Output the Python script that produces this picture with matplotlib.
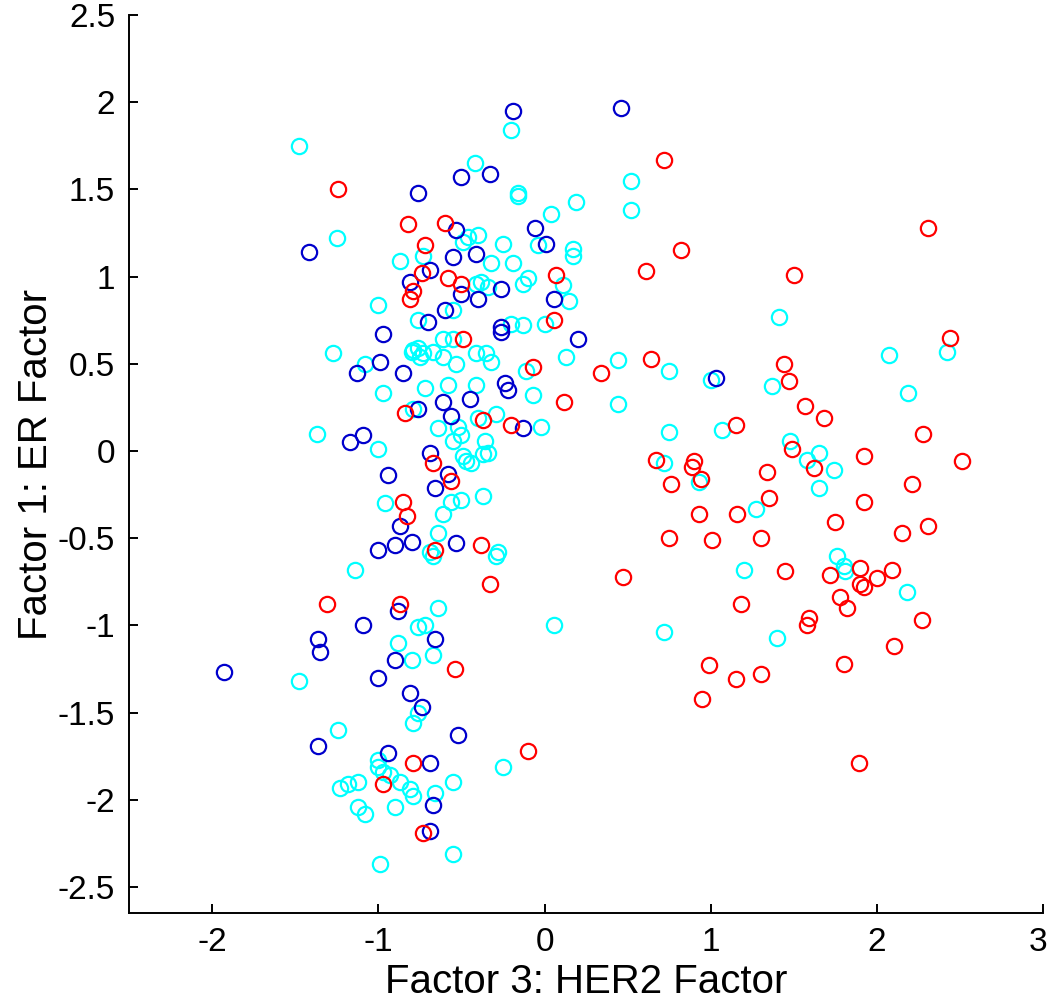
"""Scatter of ER factor against HER2 factor, three sample groups."""

from __future__ import annotations

import matplotlib

matplotlib.use("Agg")
import matplotlib.pyplot as plt
from matplotlib.transforms import ScaledTranslation


CYAN_X = [
    -1.48, -1.25, -0.87, -1.00, -0.20, -0.42, -0.16, -0.16, 0.19, 0.52, 0.52, 0.04,
    -0.04, 0.17, 0.17, -0.40, -0.46, -0.49, -0.25, -0.73, -0.32, -0.19, -0.41, -0.38,
    -0.34, -0.13, -0.10, 0.11, 0.15, -0.55, -0.76, -0.20, -0.13, 0.00, -1.27, -1.08,
    -0.79, -0.97, -0.79, -1.37, -1.00, -0.96, -0.76, -0.73, -0.75, -0.67, -0.61, -0.61,
    -0.55, -0.53, -0.41, -0.35, -0.32, -0.11, 0.44, 0.44, -0.07, 0.13, -0.72, -0.58,
    -0.41, -0.64, -0.52, -0.50, -0.55, -0.02, -0.29, -0.40, -0.36, -0.49, -0.47, -0.44,
    -0.37, -0.34, -0.50, -0.56, -0.37, -0.61, -0.64, -0.28, -0.69, -1.14, -0.76, -0.88,
    -0.80, -1.48, -0.79, -1.24, -0.29, -0.64, 0.06, -0.72, -0.67, -0.76, -1.00, -1.00,
    -0.97, -0.25, -0.93, -0.87, -1.23, -1.18, -1.12, -0.55, -0.81, -0.79, -0.66, -0.90,
    -1.12, -1.08, -0.55, -0.99, 1.41, 0.75, 1.00, 1.37, 0.75, 1.07, 1.48, 1.58,
    1.65, 2.42, 2.07, 2.19, 1.74, 0.72, 0.93, 1.27, 1.20, 0.72, 1.40, 1.65,
    1.76, 1.80, 1.81, 2.18, -0.80, -0.67,
]
CYAN_Y = [
    1.75, 1.22, 1.09, 0.84, 1.84, 1.65, 1.48, 1.46, 1.43, 1.55, 1.38, 1.36,
    1.18, 1.16, 1.12, 1.24, 1.23, 1.20, 1.19, 1.12, 1.08, 1.08, 0.96, 0.97,
    0.94, 0.96, 0.99, 0.95, 0.86, 0.81, 0.75, 0.73, 0.72, 0.73, 0.56, 0.50,
    0.58, 0.33, 0.24, 0.10, 0.01, -0.30, 0.59, 0.56, 0.54, 0.57, 0.64, 0.54,
    0.64, 0.50, 0.56, 0.56, 0.51, 0.46, 0.52, 0.27, 0.32, 0.54, 0.36, 0.38,
    0.38, 0.13, 0.14, 0.09, 0.06, 0.14, 0.21, 0.19, 0.06, -0.03, -0.06, -0.07,
    -0.02, -0.01, -0.28, -0.29, -0.26, -0.36, -0.47, -0.58, -0.58, -0.68, -1.01, -1.10,
    -1.20, -1.32, -1.56, -1.60, -0.60, -0.90, -1.00, -1.00, -1.17, -1.50, -1.77, -1.81,
    -1.84, -1.81, -1.86, -1.90, -1.93, -1.91, -1.90, -1.90, -1.94, -1.98, -1.96, -2.04,
    -2.04, -2.08, -2.31, -2.37, 0.77, 0.46, 0.41, 0.37, 0.11, 0.12, 0.06, -0.05,
    -0.01, 0.57, 0.55, 0.33, -0.11, -0.07, -0.18, -0.33, -0.68, -1.04, -1.07, -0.21,
    -0.60, -0.66, -0.69, -0.81, 0.57, -0.60,
]

BLUE_X = [
    -0.19, 0.46, -0.50, -0.33, -0.76, -1.42, -0.81, -0.53, -0.06, 0.01, -0.55, -0.41,
    -0.69, -0.50, -0.26, 0.06, -0.40, -0.60, -0.70, -0.26, -0.97, -1.13, -0.99, -0.85,
    -0.76, -1.17, -1.09, -0.94, -0.87, -1.00, -0.90, -0.80, -0.26, 0.20, -0.24, -0.22,
    -0.61, -0.45, -0.56, -0.13, -0.69, -0.58, -0.66, -0.53, -0.88, -1.09, -1.36, -1.35,
    -0.90, -1.93, -1.00, -0.81, -0.74, -1.36, -0.94, -0.52, -0.69, -0.67, -0.69, 1.03,
    -0.66,
]
BLUE_Y = [
    1.95, 1.97, 1.57, 1.59, 1.48, 1.14, 0.97, 1.27, 1.28, 1.19, 1.11, 1.13,
    1.04, 0.90, 0.93, 0.87, 0.87, 0.81, 0.74, 0.71, 0.67, 0.45, 0.51, 0.45,
    0.24, 0.05, 0.09, -0.14, -0.43, -0.57, -0.54, -0.52, 0.68, 0.64, 0.39, 0.35,
    0.28, 0.30, 0.20, 0.13, -0.01, -0.13, -0.21, -0.53, -0.92, -1.00, -1.08, -1.15,
    -1.20, -1.27, -1.30, -1.39, -1.47, -1.69, -1.73, -1.63, -1.79, -2.03, -2.18, 0.42,
    -1.08,
]

RED_X = [
    -1.24, -0.82, -0.72, -0.74, -0.79, -0.81, -0.60, -0.58, -0.50, 0.07, 0.06, -0.84,
    -0.85, -0.83, -0.49, -0.07, 0.34, 0.12, -0.37, -0.20, -0.67, -0.56, -0.66, -0.38,
    -1.31, -0.87, -0.33, 0.47, -0.54, -0.10, -0.79, -0.97, -0.73, 0.72, 0.82, 0.61,
    1.50, 0.64, 1.44, 1.47, 1.57, 1.68, 1.15, 1.49, 0.67, 0.90, 2.31, 2.44,
    2.28, 1.92, 2.51, 1.62, 0.89, 0.94, 0.76, 1.34, 1.35, 0.93, 1.16, 0.75,
    1.01, 1.30, 1.45, 1.18, 1.59, 1.58, 0.99, 1.15, 1.30, 0.95, 2.21, 1.92,
    1.75, 2.15, 2.31, 1.72, 1.90, 2.09, 2.00, 1.90, 1.92, 1.78, 1.82, 2.27,
    2.10, 1.80, 1.89,
]
RED_Y = [
    1.50, 1.30, 1.18, 1.02, 0.92, 0.87, 1.31, 0.99, 0.96, 1.01, 0.75, 0.22,
    -0.29, -0.37, 0.64, 0.48, 0.45, 0.28, 0.18, 0.15, -0.07, -0.17, -0.57, -0.54,
    -0.88, -0.88, -0.76, -0.72, -1.25, -1.72, -1.79, -1.91, -2.19, 1.67, 1.15, 1.03,
    1.01, 0.53, 0.50, 0.40, 0.26, 0.19, 0.15, 0.01, -0.05, -0.06, 1.28, 0.65,
    0.10, -0.03, -0.06, -0.10, -0.09, -0.16, -0.19, -0.12, -0.27, -0.36, -0.36, -0.50,
    -0.51, -0.50, -0.69, -0.88, -0.96, -1.00, -1.23, -1.31, -1.28, -1.42, -0.19, -0.29,
    -0.41, -0.47, -0.43, -0.71, -0.67, -0.68, -0.73, -0.76, -0.78, -0.84, -0.90, -0.97,
    -1.12, -1.22, -1.79,
]

X_TICKS = [-2, -1, 0, 1, 2, 3]
Y_TICKS = [-2.5, -2, -1.5, -1, -0.5, 0, 0.5, 1, 1.5, 2, 2.5]

GROUPS = [
    (CYAN_X, CYAN_Y, "#00ffff"),
    (BLUE_X, BLUE_Y, "#0000cc"),
    (RED_X, RED_Y, "#ff0000"),
]


def main() -> int:
    plt.rcParams["font.family"] = ["Liberation Sans", "DejaVu Sans"]
    plt.rcParams["axes.unicode_minus"] = False

    fig = plt.figure(figsize=(10.5, 10.06), dpi=100)
    ax = fig.add_axes([0.1229, 0.0924, 0.8705, 0.8926])

    for xs, ys, color in GROUPS:
        ax.plot(
            xs,
            ys,
            linestyle="none",
            marker="o",
            markersize=11,
            markerfacecolor="none",
            markeredgecolor=color,
            markeredgewidth=1.6,
        )

    ax.set_xlim(-2.5, 3)
    ax.set_ylim(-2.65, 2.5)
    ax.set_xticks(X_TICKS)
    ax.set_xticklabels([f"{v:g}" for v in X_TICKS])
    ax.set_yticks(Y_TICKS)
    ax.set_yticklabels([f"{v:g}" for v in Y_TICKS])

    for side in ("top", "right"):
        ax.spines[side].set_visible(False)
    for side in ("left", "bottom"):
        ax.spines[side].set_linewidth(1.4)

    ax.tick_params(direction="in", length=6.5, width=1.4, labelsize=24, pad=10)
    # last x label sits on the figure edge; nudge it a few pixels inward
    last = ax.get_xticklabels()[-1]
    last.set_transform(last.get_transform() + ScaledTranslation(-0.05, 0, fig.dpi_scale_trans))

    ax.set_xlabel("Factor 3: HER2 Factor", fontsize=29, labelpad=4)
    ax.set_ylabel("Factor 1: ER Factor", fontsize=29, labelpad=2)

    fig.savefig("out.png", dpi=100)
    plt.close(fig)
    return 0


if __name__ == "__main__":
    raise SystemExit(main())
